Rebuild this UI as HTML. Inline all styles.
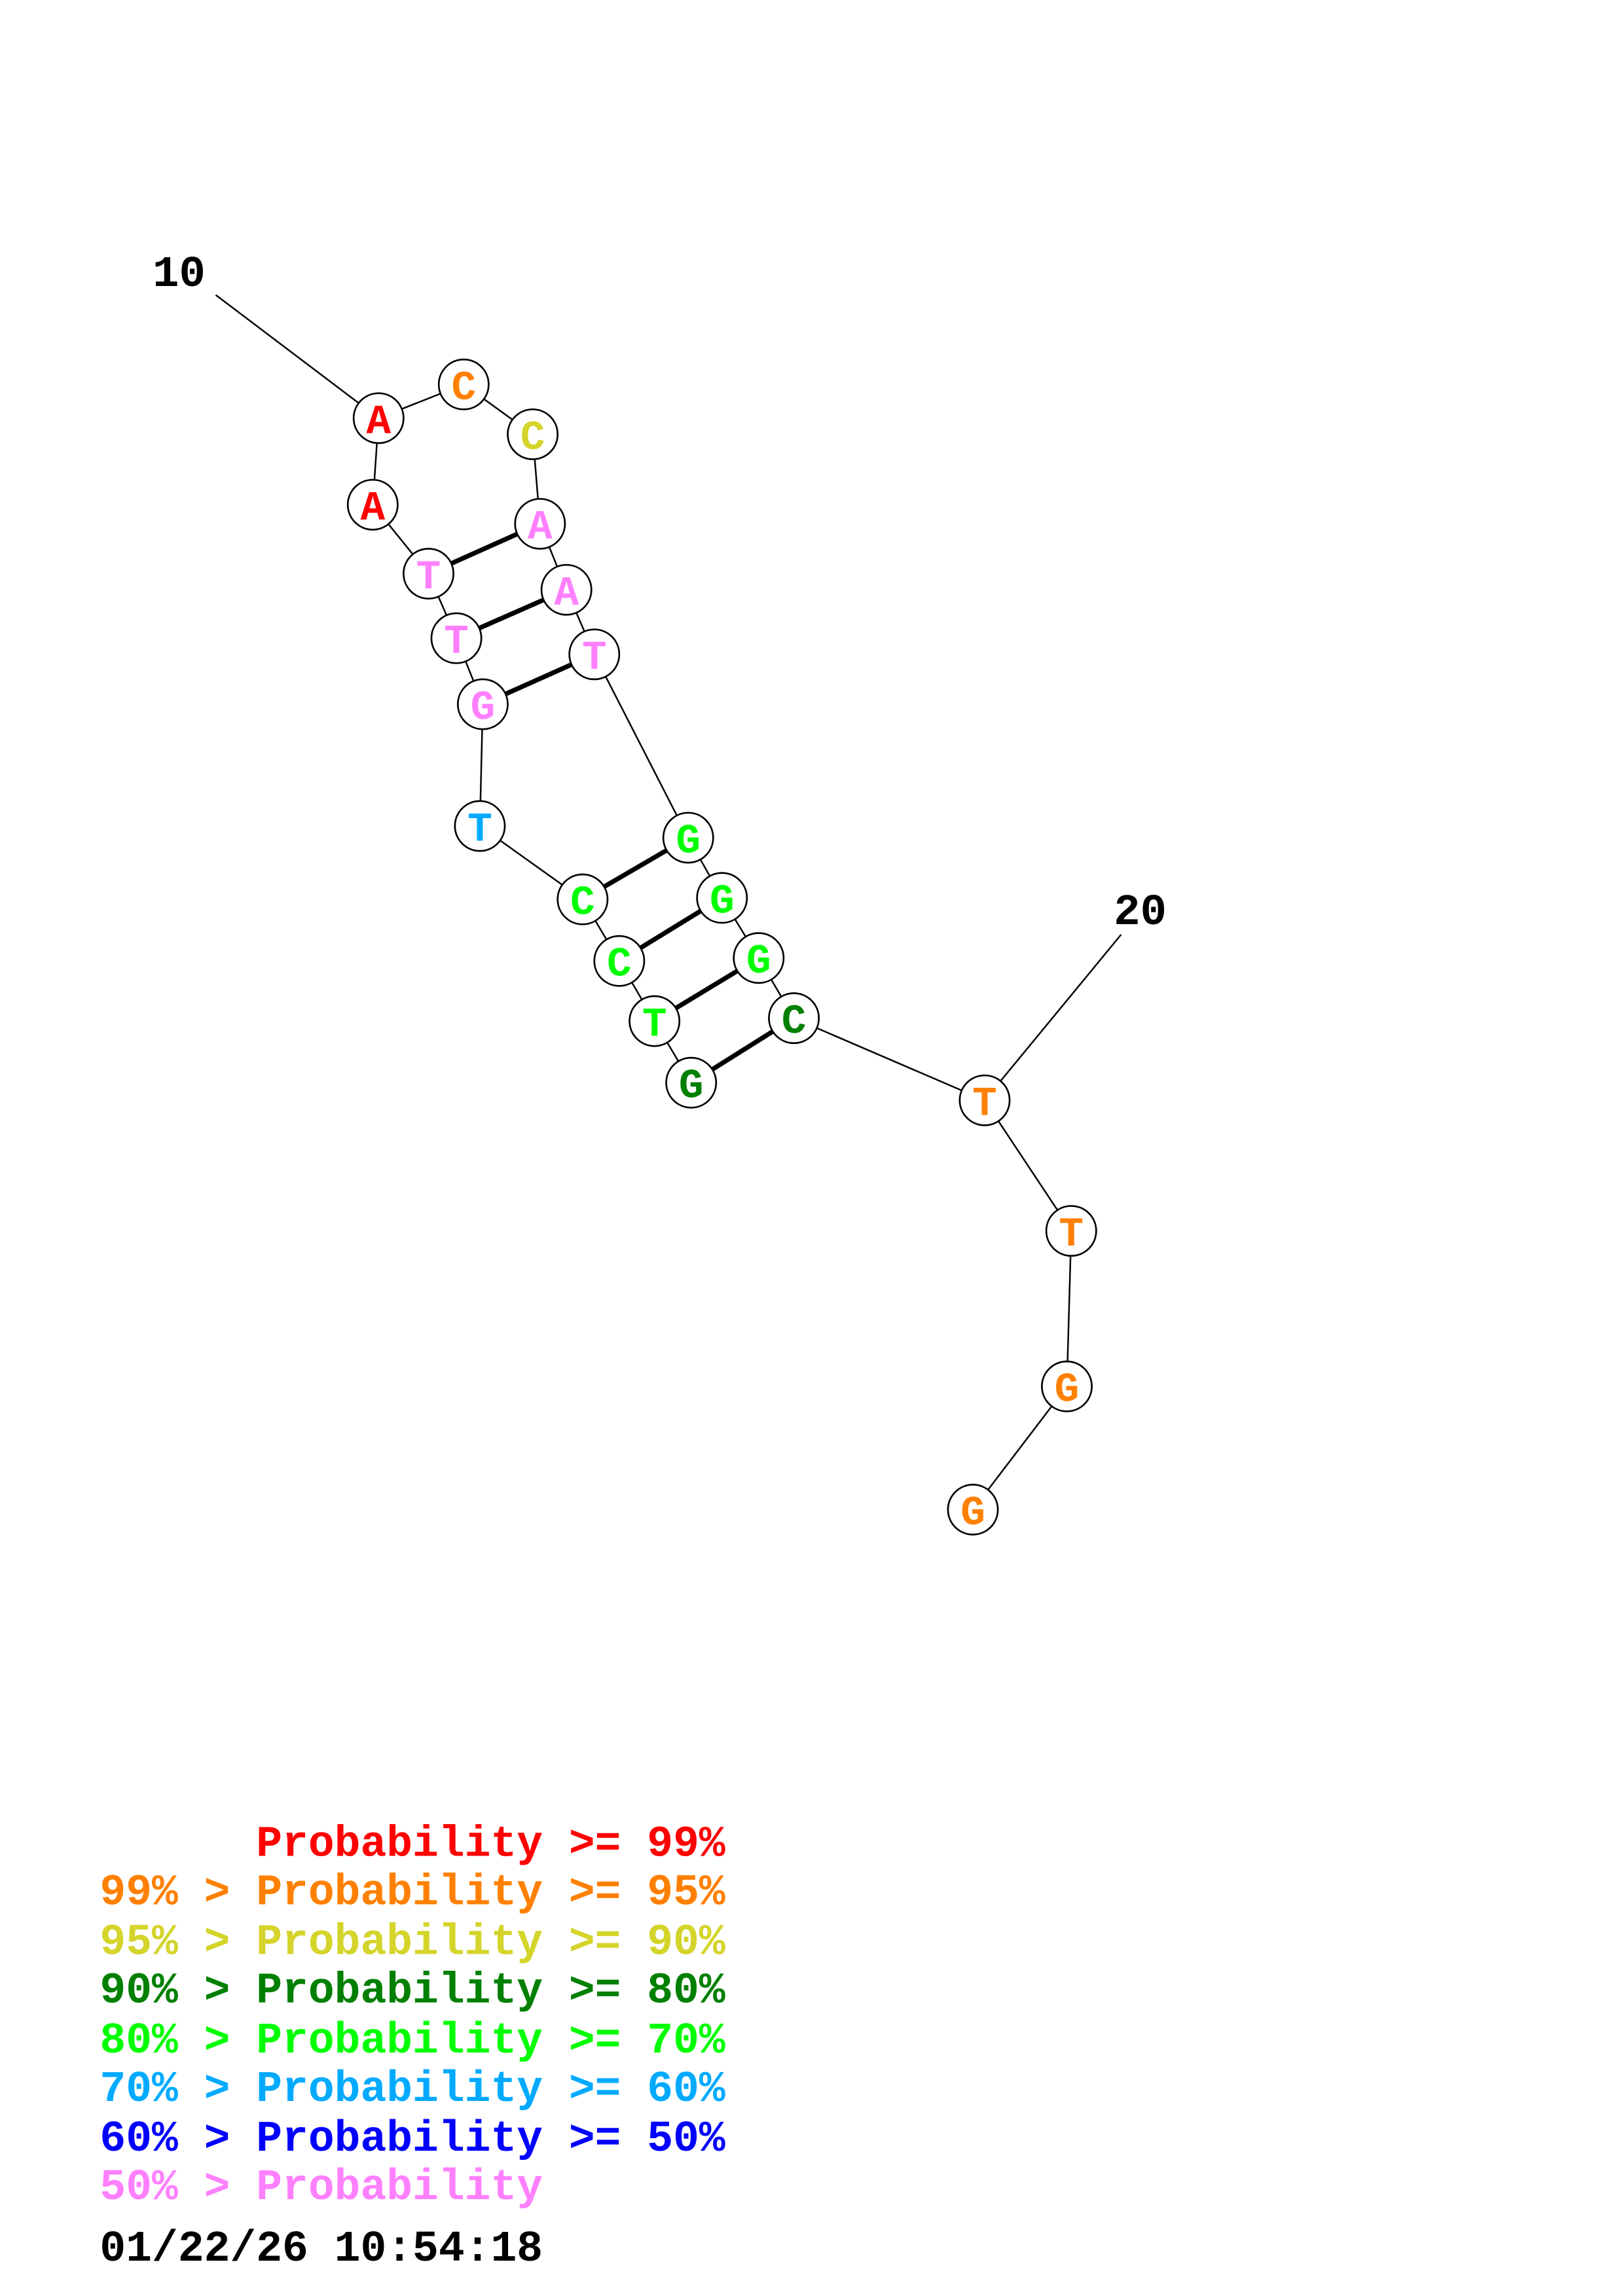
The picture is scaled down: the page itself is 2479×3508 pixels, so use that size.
<!DOCTYPE html>
<html><head><style>html,body{margin:0;padding:0;background:#fff}svg{display:block}text{white-space:pre}</style></head><body>
<svg width="2479" height="3508" viewBox="0 0 1106 1565" xmlns="http://www.w3.org/2000/svg">
<rect width="1106" height="1565" fill="#fff"/>
<g stroke="#000" stroke-width="1.1" fill="none">
<line x1="147" y1="201" x2="258" y2="285"/>
<line x1="764" y1="637" x2="671" y2="750"/>
<polyline points="258,285 316,262 363,296 368,357 386,402 405,446 469,571 492,612 517,653 541,694 671,750 730,839 727,945 663,1029"/>
<polyline points="258,285 254,344 292,391 311,435 329,480 327,563 397,613 422,655 446,696 471,738"/>
</g>
<g stroke="#000" stroke-width="3.2">
<line x1="292" y1="391" x2="368" y2="357"/>
<line x1="311" y1="435" x2="386" y2="402"/>
<line x1="329" y1="480" x2="405" y2="446"/>
<line x1="397" y1="613" x2="469" y2="571"/>
<line x1="422" y1="655" x2="492" y2="612"/>
<line x1="446" y1="696" x2="517" y2="653"/>
<line x1="471" y1="738" x2="541" y2="694"/>
</g>
<g stroke="#000" stroke-width="1.2" fill="#fff">
<circle cx="258" cy="285" r="17"/><circle cx="316" cy="262" r="17"/><circle cx="363" cy="296" r="17"/>
<circle cx="254" cy="344" r="17"/><circle cx="368" cy="357" r="17"/><circle cx="292" cy="391" r="17"/>
<circle cx="386" cy="402" r="17"/><circle cx="311" cy="435" r="17"/><circle cx="405" cy="446" r="17"/>
<circle cx="329" cy="480" r="17"/><circle cx="327" cy="563" r="17"/><circle cx="469" cy="571" r="17"/>
<circle cx="397" cy="613" r="17"/><circle cx="492" cy="612" r="17"/><circle cx="422" cy="655" r="17"/>
<circle cx="517" cy="653" r="17"/><circle cx="446" cy="696" r="17"/><circle cx="541" cy="694" r="17"/>
<circle cx="471" cy="738" r="17"/><circle cx="671" cy="750" r="17"/><circle cx="730" cy="839" r="17"/>
<circle cx="727" cy="945" r="17"/><circle cx="663" cy="1029" r="17"/>
</g>
<g font-family="Liberation Mono, monospace" font-weight="bold" font-size="28" text-anchor="middle">
<text x="258" y="295" fill="#f00">A</text><text x="316" y="272" fill="#ff8000">C</text><text x="363" y="306" fill="#d4d42a">C</text>
<text x="254" y="354" fill="#f00">A</text><text x="368" y="367" fill="#ff80ff">A</text><text x="292" y="401" fill="#ff80ff">T</text>
<text x="386" y="412" fill="#ff80ff">A</text><text x="311" y="445" fill="#ff80ff">T</text><text x="405" y="456" fill="#ff80ff">T</text>
<text x="329" y="490" fill="#ff80ff">G</text><text x="327" y="573" fill="#00aaff">T</text><text x="469" y="581" fill="#00ff00">G</text>
<text x="397" y="623" fill="#00ff00">C</text><text x="492" y="622" fill="#00ff00">G</text><text x="422" y="665" fill="#00ff00">C</text>
<text x="517" y="663" fill="#00ff00">G</text><text x="446" y="706" fill="#00ff00">T</text><text x="541" y="704" fill="#008000">C</text>
<text x="471" y="748" fill="#008000">G</text><text x="671" y="760" fill="#ff8000">T</text><text x="730" y="849" fill="#ff8000">T</text>
<text x="727" y="955" fill="#ff8000">G</text><text x="663" y="1039" fill="#ff8000">G</text>
</g>
<g font-family="Liberation Mono, monospace" font-weight="bold" font-size="30" text-anchor="middle" fill="#000">
<text x="122" y="195">10</text><text x="777" y="630">20</text>
</g>
<g font-family="Liberation Mono, monospace" font-weight="bold" font-size="29.6">
<text x="68" y="1265" fill="#f00">      Probability &gt;= 99%</text>
<text x="68" y="1298" fill="#ff8000">99% &gt; Probability &gt;= 95%</text>
<text x="68" y="1332" fill="#d4d42a">95% &gt; Probability &gt;= 90%</text>
<text x="68" y="1365" fill="#008000">90% &gt; Probability &gt;= 80%</text>
<text x="68" y="1399" fill="#00ff00">80% &gt; Probability &gt;= 70%</text>
<text x="68" y="1432" fill="#00aaff">70% &gt; Probability &gt;= 60%</text>
<text x="68" y="1466" fill="#0000ff">60% &gt; Probability &gt;= 50%</text>
<text x="68" y="1499" fill="#ff80ff">50% &gt; Probability</text>
<text x="68" y="1541" fill="#000">01/22/26 10:54:18</text>
</g>
</svg>
</body></html>
